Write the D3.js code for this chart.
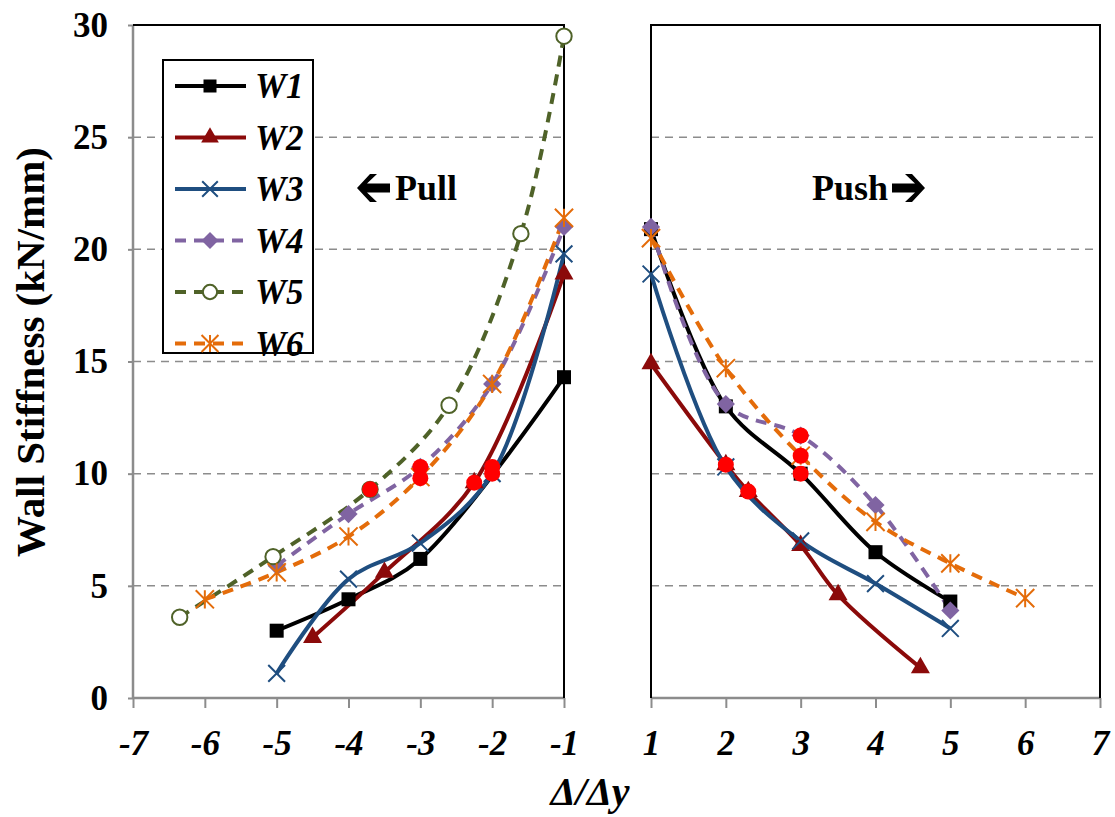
<!DOCTYPE html>
<html>
<head>
<meta charset="utf-8">
<script src="https://cdn.jsdelivr.net/npm/d3@7"></script>
<style>
  body { margin: 0; background: #fff; }
</style>
</head>
<body>
<div id="vis"></div>
<script>
// series data: pull side (negative) and push side (positive)
const seriesNames = ["W1", "W2", "W3", "W4", "W5", "W6"];
const seriesColors = ["#000000", "#8b0a0a", "#1f4e80", "#8064a2", "#4f6228", "#e46c0a"];
const seriesDashed = [false, false, false, true, true, true];

const w1PullX = [-5, -4, -3, -1];
const w1PullY = [3.0, 4.4, 6.2, 14.3];
const w1PushX = [1, 2, 3, 4, 5];
const w1PushY = [20.9, 13.0, 10.0, 6.5, 4.3];

const w2PullX = [-4.5, -3.5, -2.25, -1];
const w2PullY = [2.7, 5.6, 9.6, 18.9];
const w2PushX = [1, 2, 2.3, 3, 3.5, 4.6];
const w2PushY = [14.9, 10.4, 9.2, 6.8, 4.6, 1.35];

const w3PullX = [-5, -4, -3, -2, -1];
const w3PullY = [1.1, 5.3, 6.9, 10.0, 19.8];
const w3PushX = [1, 2, 3, 4, 5];
const w3PushY = [18.9, 10.3, 7.0, 5.1, 3.1];

const w4PullX = [-5, -4, -3, -2, -1];
const w4PullY = [5.9, 8.2, 10.3, 14.0, 21.0];
const w4PushX = [1, 2, 3, 4, 5];
const w4PushY = [21.0, 13.1, 11.7, 8.6, 3.9];

const w5PullX = [-6.35, -5.05, -3.7, -2.6, -1.6, -1];
const w5PullY = [3.6, 6.3, 9.3, 13.05, 20.7, 29.5];

const w6PullX = [-6, -5, -4, -3, -2, -1];
const w6PullY = [4.4, 5.6, 7.2, 9.85, 14.0, 21.4];
const w6PushX = [1, 2, 3, 4, 5, 6];
const w6PushY = [20.5, 14.7, 10.8, 7.85, 6.0, 4.45];

// red marks on the curves
const redPullX = [-3.7, -3, -3, -2.25, -2, -2];
const redPullY = [9.3, 10.3, 9.8, 9.6, 10.3, 10.0];
const redPushX = [2, 2.3, 3, 3, 3];
const redPushY = [10.4, 9.2, 11.7, 10.8, 10.0];

const yTicks = [0, 5, 10, 15, 20, 25, 30];
const pullTicks = [-7, -6, -5, -4, -3, -2, -1];
const pushTicks = [1, 2, 3, 4, 5, 6, 7];

const FONT = "'Liberation Serif', 'Times New Roman', Times, serif";

const zip = (xs, ys) => xs.map((x, i) => [x, ys[i]]);
const pullData = [zip(w1PullX, w1PullY), zip(w2PullX, w2PullY), zip(w3PullX, w3PullY),
                  zip(w4PullX, w4PullY), zip(w5PullX, w5PullY), zip(w6PullX, w6PullY)];
const pushData = [zip(w1PushX, w1PushY), zip(w2PushX, w2PushY), zip(w3PushX, w3PushY),
                  zip(w4PushX, w4PushY), [], zip(w6PushX, w6PushY)];

const W = 1115, H = 817;
const svg = d3.select("#vis").append("svg").attr("width", W).attr("height", H);

const y = d3.scaleLinear().domain([0, 30]).range([698, 25]);
const xL = d3.scaleLinear().domain([-7, -1]).range([133, 564]);
const xR = d3.scaleLinear().domain([1, 7]).range([651, 1100]);

// gridlines
[[133, 564], [651, 1100]].forEach(([a, b]) => {
  svg.append("g").selectAll("line").data(yTicks.filter(t => t > 0 && t < 30)).enter().append("line")
    .attr("x1", a).attr("x2", b).attr("y1", d => y(d)).attr("y2", d => y(d))
    .attr("stroke", "#8c8c8c").attr("stroke-width", 1.5).attr("stroke-dasharray", "8,6");
});

// axes
const axisColor = "#8c8c8c";
const gy = svg.append("g").attr("transform", "translate(133,0)")
  .call(d3.axisLeft(y).tickValues(yTicks).tickSize(5).tickPadding(20));
const gxl = svg.append("g").attr("transform", "translate(0,698)")
  .call(d3.axisBottom(xL).tickValues(pullTicks).tickSize(10).tickPadding(22).tickFormat(d => String(d)));
const gxr = svg.append("g").attr("transform", "translate(0,698)")
  .call(d3.axisBottom(xR).tickValues(pushTicks).tickSize(10).tickPadding(22).tickFormat(d => String(d)));
[gy, gxl, gxr].forEach(g => {
  g.attr("font-family", null).attr("font-size", null);
  g.select(".domain").attr("stroke", axisColor).attr("stroke-width", 2.5);
  g.selectAll(".tick line").attr("stroke", axisColor).attr("stroke-width", 2);
  g.selectAll("text").attr("fill", "#000").style("font-size", "35px");
});
[gxl, gxr].forEach(g => g.selectAll("text").style("font-style", "italic"));
gy.select(".domain").attr("d", "M0,698V25");
gxl.select(".domain").attr("d", "M133,0H564");
gxr.select(".domain").attr("d", "M651,0H1100");

// frame borders
svg.append("path").attr("d", "M133,25H564V698").attr("fill", "none").attr("stroke", "#000").attr("stroke-width", 2);
svg.append("path").attr("d", "M651,698V25H1100V698").attr("fill", "none").attr("stroke", "#000").attr("stroke-width", 2);

// markers
function marker(g, idx, cx, cy, s) {
  const col = seriesColors[idx];
  if (idx === 0) {
    g.append("rect").attr("x", cx - s / 2).attr("y", cy - s / 2).attr("width", s).attr("height", s).attr("fill", col);
  } else if (idx === 1) {
    g.append("path").attr("d", d3.symbol(d3.symbolTriangle, s * s * 0.8)()).attr("transform", `translate(${cx},${cy})`).attr("fill", col);
  } else if (idx === 2) {
    const r = s * 0.6;
    g.append("path").attr("d", `M${cx - r},${cy - r}L${cx + r},${cy + r}M${cx - r},${cy + r}L${cx + r},${cy - r}`)
      .attr("stroke", col).attr("stroke-width", 2);
  } else if (idx === 3) {
    const r = s * 0.65;
    g.append("path").attr("d", `M${cx},${cy - r}L${cx + r},${cy}L${cx},${cy + r}L${cx - r},${cy}Z`).attr("fill", col);
  } else if (idx === 4) {
    g.append("circle").attr("cx", cx).attr("cy", cy).attr("r", s * 0.55).attr("fill", "#fff").attr("stroke", col).attr("stroke-width", 2);
  } else {
    const r = s * 0.65;
    g.append("path").attr("d", `M${cx - r},${cy - r}L${cx + r},${cy + r}M${cx - r},${cy + r}L${cx + r},${cy - r}M${cx},${cy - r}L${cx},${cy + r}`)
      .attr("stroke", col).attr("stroke-width", 2);
  }
}

// series lines + markers
[[pullData, xL], [pushData, xR]].forEach(([data, xs]) => {
  const line = d3.line().x(d => xs(d[0])).y(d => y(d[1])).curve(d3.curveCatmullRom.alpha(0.5));
  data.forEach((pts, i) => {
    if (!pts.length) return;
    svg.append("path").datum(pts).attr("d", line).attr("fill", "none")
      .attr("stroke", seriesColors[i]).attr("stroke-width", 4)
      .attr("stroke-dasharray", seriesDashed[i] ? "11,8" : null);
  });
  data.forEach((pts, i) => {
    const g = svg.append("g");
    pts.forEach(p => marker(g, i, xs(p[0]), y(p[1]), 14));
  });
});

// red dots
svg.append("g").selectAll("circle").data(zip(redPullX, redPullY)).enter().append("circle")
  .attr("cx", d => xL(d[0])).attr("cy", d => y(d[1])).attr("r", 8).attr("fill", "#ff0000");
svg.append("g").selectAll("circle").data(zip(redPushX, redPushY)).enter().append("circle")
  .attr("cx", d => xR(d[0])).attr("cy", d => y(d[1])).attr("r", 8).attr("fill", "#ff0000");

// Pull / Push labels with block arrows
function blockArrow(tipX, cy, dir) {
  // dir -1 points left, +1 points right
  const p = [[0, 0], [13, -14], [20, -14], [10, -4.5], [33, -4.5], [33, 4.5], [10, 4.5], [20, 14], [13, 14]];
  svg.append("path")
    .attr("d", "M" + p.map(q => [tipX - dir * q[0], cy + q[1]].join(",")).join("L") + "Z")
    .attr("fill", "#000");
}
svg.append("text").attr("x", 395).attr("y", 200).style("font-size", "36px").text("Pull");
blockArrow(357, 188, -1);
svg.append("text").attr("x", 812).attr("y", 200).style("font-size", "36px").text("Push");
blockArrow(925, 188, 1);

// axis titles
svg.append("text").attr("transform", "translate(44,352) rotate(-90)").attr("text-anchor", "middle")
  .style("font-size", "41px").text("Wall Stiffness (kN/mm)");
svg.append("text").attr("x", 590).attr("y", 805).attr("text-anchor", "middle")
  .style("font-size", "40px").style("font-style", "italic").text("Δ/Δy");

// legend
const lg = svg.append("g");
lg.append("rect").attr("x", 163).attr("y", 60).attr("width", 150).attr("height", 293)
  .attr("fill", "#fff").attr("stroke", "#000").attr("stroke-width", 2);
seriesNames.forEach((name, i) => {
  const cy = 86 + i * 51.5;
  lg.append("line").attr("x1", 175).attr("x2", 246).attr("y1", cy).attr("y2", cy)
    .attr("stroke", seriesColors[i]).attr("stroke-width", 4)
    .attr("stroke-dasharray", seriesDashed[i] ? "11,8" : null);
  marker(lg, i, 210, cy, 13);
  lg.append("text").attr("x", 255).attr("y", cy + 12).style("font-size", "35px").style("font-style", "italic").text(name);
});

svg.selectAll("text").style("font-family", FONT).style("font-weight", "bold");
</script>
</body>
</html>
